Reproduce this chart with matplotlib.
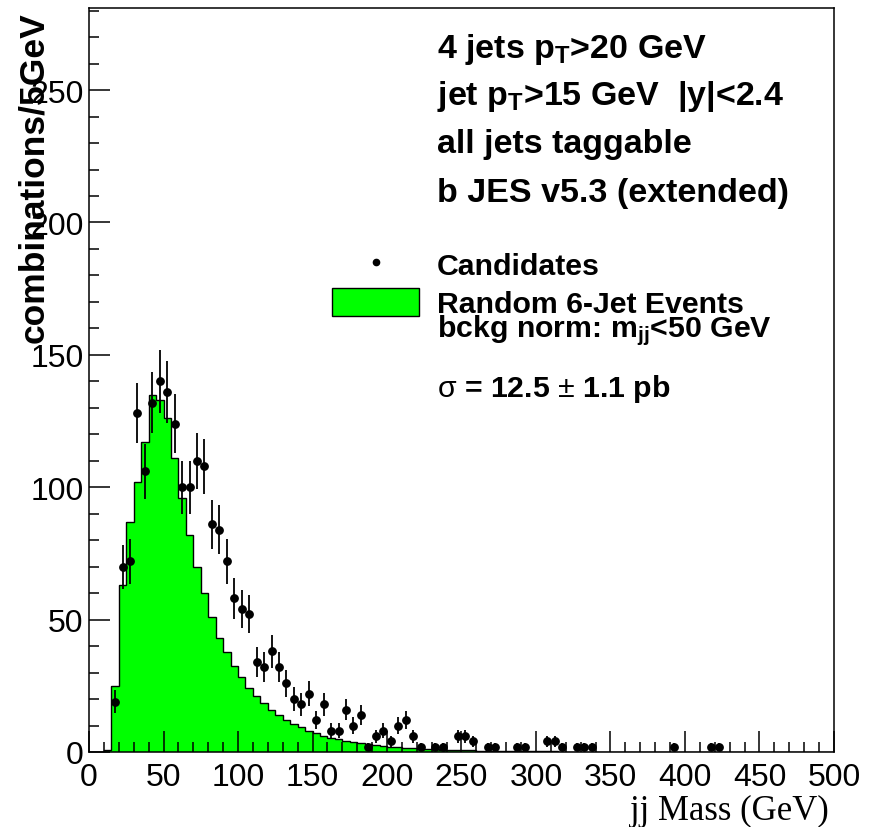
import numpy as np
import matplotlib.pyplot as plt
from matplotlib.patches import Rectangle

plt.rcParams['font.family'] = ['Liberation Sans', 'DejaVu Sans']
plt.rcParams['mathtext.fontset'] = 'custom'
plt.rcParams['mathtext.rm'] = 'Liberation Sans'
plt.rcParams['mathtext.it'] = 'Liberation Sans'
plt.rcParams['mathtext.bf'] = 'Liberation Sans:bold'

# background histogram (random 6-jet events), 5 GeV bins starting at 0
bkg_vals = [0, 0, 0.8, 25, 63, 87, 102, 117, 135, 133,
            126, 111, 96, 82, 70, 60, 51, 43, 37.6, 32.6,
            28.2, 24, 21, 18.4, 16, 14.1, 12.2, 10.6, 9.3, 8.0,
            7.0, 6.1, 5.4, 4.8, 4.2, 3.7, 3.3, 2.9, 2.6, 2.3,
            2.0, 1.8, 1.6, 1.4, 1.25, 1.1, 1.0, 0.9, 0.8, 0.7,
            0.65, 0.6, 0.55, 0.5, 0.45, 0.4, 0.38, 0.35, 0.3, 0.28,
            0.25, 0.22, 0.2, 0.18]

# candidates (bin centre, count)
cand_x = [17.5, 22.5, 27.5, 32.5, 37.5, 42.5, 47.5, 52.5, 57.5, 62.5,
          67.5, 72.5, 77.5, 82.5, 87.5, 92.5, 97.5, 102.5, 107.5, 112.5,
          117.5, 122.5, 127.5, 132.5, 137.5, 142.5, 147.5, 152.5, 157.5, 162.5,
          167.5, 172.5, 177.5, 182.5, 187.5, 192.5, 197.5, 202.5, 207.5, 212.5,
          217.5, 222.5, 232.5, 237.5, 247.5, 252.5, 257.5, 267.5, 272.5, 287.5,
          292.5, 307.5, 312.5, 317.5, 327.5, 332.5, 337.5, 392.5, 417.5, 422.5]
cand_y = [19, 70, 72, 128, 106, 132, 140, 136, 124, 100,
          100, 110, 108, 86, 84, 72, 58, 54, 52, 34,
          32, 38, 32, 26, 20, 18, 22, 12, 18, 8,
          8, 16, 10, 14, 2, 6, 8, 4, 10, 12,
          6, 2, 2, 2, 6, 6, 4, 2, 2, 2,
          2, 4, 4, 2, 2, 2, 2, 2, 2, 2]

edges = np.arange(0, 505, 5)
bkg = np.zeros(len(edges) - 1)
bkg[:len(bkg_vals)] = bkg_vals

W, H = 874, 828
fig = plt.figure(figsize=(W / 100, H / 100), dpi=100)
ax = fig.add_axes([89 / W, 75 / H, 745 / W, 744 / H])

def fpos(x, y):
    return x / W, 1 - y / H

ax.stairs(bkg, edges, fill=True, color='#00ff00', zorder=1)
ax.stairs(bkg, edges, color='black', lw=1.0, zorder=2)
ax.errorbar(cand_x, cand_y, yerr=np.sqrt(cand_y), fmt='o', color='black',
            ms=5.3, elinewidth=1.3, capsize=0, zorder=3)

ax.set_xlim(0, 500)
ax.set_ylim(0, 281)
ax.set_xticks(np.arange(0, 501, 50))
ax.set_xticks(np.arange(0, 501, 10), minor=True)
ax.set_yticks(np.arange(0, 251, 50))
ax.set_yticks(np.arange(0, 281, 10), minor=True)
ax.tick_params(which='both', direction='in', width=1.1, labelsize=23)
ax.tick_params(which='major', length=15)
ax.tick_params(which='minor', length=7.2)
ax.tick_params(axis='x', pad=7)
ax.tick_params(axis='y', pad=4)
for s in ax.spines.values():
    s.set_linewidth(1.1)

fig.text(*fpos(34, 12), 'combinations/5GeV', rotation=90, ha='center', va='top',
         fontsize=25.5, fontweight='bold')
fig.text(*fpos(829, 820), 'jj Mass (GeV)', ha='right', va='baseline',
         fontsize=25, family='Liberation Serif')

cuts = [(58, r'4 jets p$_{\mathbf{T}}$>20 GeV'),
        (105, r'jet p$_{\mathbf{T}}$>15 GeV  |y|<2.4'),
        (153, 'all jets taggable'),
        (202, 'b JES v5.3 (extended)')]
for y, t in cuts:
    fig.text(*fpos(437, y), t, ha='left', va='baseline', fontsize=24.5, fontweight='bold')

leg = [(275, 'Candidates'),
       (313, 'Random 6-Jet Events'),
       (337, r'bckg norm: m$_{\mathbf{jj}}$<50 GeV'),
       (397, r'$\sigma$ = 12.5 $\pm$ 1.1 pb')]
for y, t in leg:
    fig.text(*fpos(437, y), t, ha='left', va='baseline', fontsize=21.8, fontweight='bold')

fig.lines.append(plt.Line2D([376 / W], [1 - 263 / H], marker='o', ms=4.5, color='black',
                            transform=fig.transFigure))
fig.patches.append(Rectangle(fpos(332, 317), 87 / W, 28 / H, facecolor='#00ff00',
                             edgecolor='black', lw=1, transform=fig.transFigure))

fig.savefig('out.png', dpi=100)
